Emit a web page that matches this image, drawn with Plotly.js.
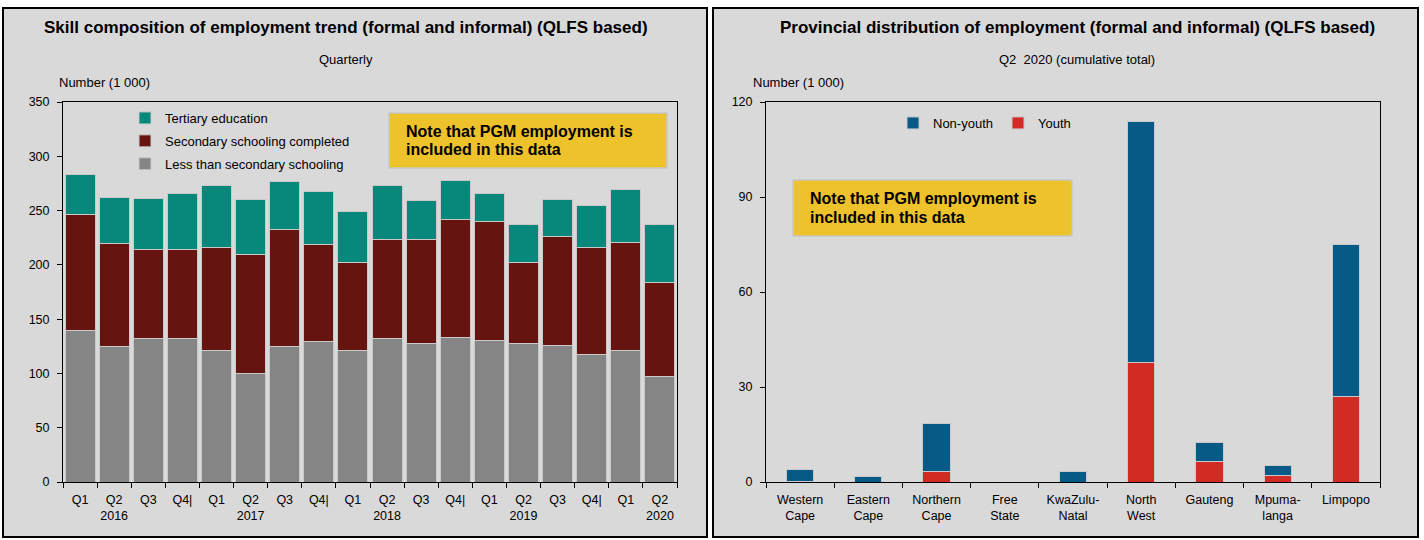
<!DOCTYPE html>
<html>
<head>
<meta charset="utf-8">
<script src="https://cdn.plot.ly/plotly-3.0.1.min.js"></script>
<style>html,body{margin:0;padding:0;background:#fff;}#chart{width:1424px;height:540px;}</style>
</head>
<body>
<div id="chart"></div>
<script>
// ---- Left chart data (Number, 1 000) ----
const quarters = ["2016 Q1","2016 Q2","2016 Q3","2016 Q4","2017 Q1","2017 Q2","2017 Q3","2017 Q4","2018 Q1","2018 Q2","2018 Q3","2018 Q4","2019 Q1","2019 Q2","2019 Q3","2019 Q4","2020 Q1","2020 Q2"];
const quarterLabels = ["Q1","Q2<br>2016","Q3","Q4|","Q1","Q2<br>2017","Q3","Q4|","Q1","Q2<br>2018","Q3","Q4|","Q1","Q2<br>2019","Q3","Q4|","Q1","Q2<br>2020"];
const lessThanSecondary = [140,125,132,132,121,100,125,129,121,132,128,133,130,128,126,117,121,97];
const secondaryCompleted = [106,95,82,82,95,110,108,90,81,91,95,109,110,74,100,99,100,87];
const tertiaryEducation = [37,42,47,52,57,50,44,49,47,50,36,36,26,35,34,39,48,53];
const leftTicks = [0,50,100,150,200,250,300,350];

// ---- Right chart data (Number, 1 000) ----
const provinces = ["Western Cape","Eastern Cape","Northern Cape","Free State","KwaZulu-Natal","North West","Gauteng","Mpumalanga","Limpopo"];
const provinceLabels = ["Western<br>Cape","Eastern<br>Cape","Northern<br>Cape","Free<br>State","KwaZulu-<br>Natal","North<br>West","Gauteng","Mpuma-<br>langa","Limpopo"];
const youth = [0.3,0,3.2,0,0,37.7,6.5,2.1,27];
const nonYouth = [3.8,1.8,15.4,0,3.2,76.3,6.1,3.0,48];
const rightTicks = [0,30,60,90,120];

const noteLine1 = 'Note that PGM employment is';
const noteLine2 = 'included in this data';

const FONT = '"Liberation Sans Narrow", "Arial Narrow", "Liberation Sans", Arial, sans-serif';
const ARIAL = '"Liberation Sans", Arial, sans-serif';
const W = 1424, H = 540;
const px = x => x / W;
const py = y => 1 - y / H;

const barLine = {color: '#c9c9c9', width: 1};

const traces = [
  {type:'bar', name:'Less than secondary schooling', x: quarters, y: lessThanSecondary, legendrank:3, legendgroup:'c',
   marker:{color:'#858585', line: barLine}, xaxis:'x', yaxis:'y', legend:'legend'},
  {type:'bar', name:'Secondary schooling completed', x: quarters, y: secondaryCompleted, legendrank:2, legendgroup:'b',
   marker:{color:'#661410', line: barLine}, xaxis:'x', yaxis:'y', legend:'legend'},
  {type:'bar', name:'Tertiary education', x: quarters, y: tertiaryEducation, legendrank:1, legendgroup:'a',
   marker:{color:'#08877b', line: barLine}, xaxis:'x', yaxis:'y', legend:'legend'},
  {type:'bar', name:'Youth', x: provinces, y: youth, width:0.4, legendrank:2,
   marker:{color:'#d22a25', line: barLine}, xaxis:'x2', yaxis:'y2', legend:'legend2'},
  {type:'bar', name:'Non-youth', x: provinces, y: nonYouth, width:0.4, legendrank:1,
   marker:{color:'#075a85', line: barLine}, xaxis:'x2', yaxis:'y2', legend:'legend2'}
];

const axisCommon = {
  showline:true, linecolor:'#000', linewidth:1, mirror:true,
  ticks:'outside', ticklen:5, tickcolor:'#000', tickwidth:1,
  showgrid:false, zeroline:false, fixedrange:true, tickangle:0,
  tickfont:{family:FONT, size:12.5, color:'#000'}
};

const noteBox = (x0, y0, x1, y1) => ({type:'rect', xref:'paper', yref:'paper', x0:px(x0), x1:px(x1), y0:py(y1), y1:py(y0),
  fillcolor:'#eec22a', line:{color:'#c8c8c8', width:1.5}, layer:'above'});
const noteText = (x, y, t) => ({xref:'paper', yref:'paper', x:px(x), y:py(y), xanchor:'left', yanchor:'middle',
  text:'<b>'+t+'</b>', showarrow:false, font:{family:ARIAL, size:16, color:'#000'}});

const layout = {
  width: W, height: H,
  margin:{l:0,r:0,t:0,b:0},
  paper_bgcolor:'#ffffff', plot_bgcolor:'#ffffff',
  barmode:'stack',
  showlegend:true,
  xaxis: Object.assign({}, axisCommon, {domain:[px(63), px(677)], anchor:'y', type:'category', ticklabelstandoff:6,
    tickvals: quarters, ticktext: quarterLabels, tickson:'boundaries', categoryorder:'array', categoryarray: quarters}),
  yaxis: Object.assign({}, axisCommon, {domain:[py(482), py(102)], anchor:'x', range:[0,350], tickvals:leftTicks, ticklabelstandoff:5}),
  xaxis2: Object.assign({}, axisCommon, {domain:[px(766), px(1380)], anchor:'y2', type:'category', ticklabelstandoff:6,
    tickvals: provinces, ticktext: provinceLabels, tickson:'boundaries', categoryorder:'array', categoryarray: provinces}),
  yaxis2: Object.assign({}, axisCommon, {domain:[py(482), py(102)], anchor:'x2', range:[0,120], tickvals:rightTicks, ticklabelstandoff:5}),
  bargap: 0.12,
  legend: {x: px(125), y: py(103), xanchor:'left', yanchor:'top', bgcolor:'rgba(0,0,0,0)',
    font:{family:FONT, size:13, color:'#000'}, traceorder:'grouped', tracegroupgap:3},
  legend2: {x: px(893), y: py(108), xanchor:'left', yanchor:'top', orientation:'h', bgcolor:'rgba(0,0,0,0)',
    font:{family:FONT, size:13, color:'#000'}, traceorder:'normal'},
  shapes: [
    {type:'rect', xref:'paper', yref:'paper', x0:px(3), x1:px(707), y0:py(537), y1:py(8),
     fillcolor:'#d9d9d9', line:{color:'#000', width:2}, layer:'below'},
    {type:'rect', xref:'paper', yref:'paper', x0:px(713), x1:px(1418), y0:py(537), y1:py(8),
     fillcolor:'#d9d9d9', line:{color:'#000', width:2}, layer:'below'},
    noteBox(389, 113, 667, 168),
    noteBox(793, 180, 1072, 236)
  ],
  annotations: [
    {xref:'paper', yref:'paper', x:px(346), y:py(28), text:'<b>Skill composition of employment trend (formal and informal) (QLFS based)</b>',
     showarrow:false, font:{family:FONT, size:17, color:'#000'}, xanchor:'center', yanchor:'middle'},
    {xref:'paper', yref:'paper', x:px(346), y:py(59), text:'Quarterly',
     showarrow:false, font:{family:FONT, size:13, color:'#000'}, xanchor:'center', yanchor:'middle'},
    {xref:'paper', yref:'paper', x:px(57), y:py(82), text:'Number (1 000)',
     showarrow:false, font:{family:FONT, size:13, color:'#000'}, xanchor:'left', yanchor:'middle'},
    {xref:'paper', yref:'paper', x:px(1077), y:py(28), text:'<b>Provincial distribution of employment (formal and informal) (QLFS based)</b>',
     showarrow:false, font:{family:FONT, size:17, color:'#000'}, xanchor:'center', yanchor:'middle'},
    {xref:'paper', yref:'paper', x:px(1077), y:py(59), text:'Q2  2020 (cumulative total)',
     showarrow:false, font:{family:FONT, size:13, color:'#000'}, xanchor:'center', yanchor:'middle'},
    {xref:'paper', yref:'paper', x:px(751), y:py(82), text:'Number (1 000)',
     showarrow:false, font:{family:FONT, size:13, color:'#000'}, xanchor:'left', yanchor:'middle'},
    noteText(404, 131, noteLine1),
    noteText(404, 149, noteLine2),
    noteText(808, 199, noteLine1),
    noteText(808, 217, noteLine2)
  ]
};

Plotly.newPlot('chart', traces, layout, {displayModeBar:false, staticPlot:true});
</script>
</body>
</html>
